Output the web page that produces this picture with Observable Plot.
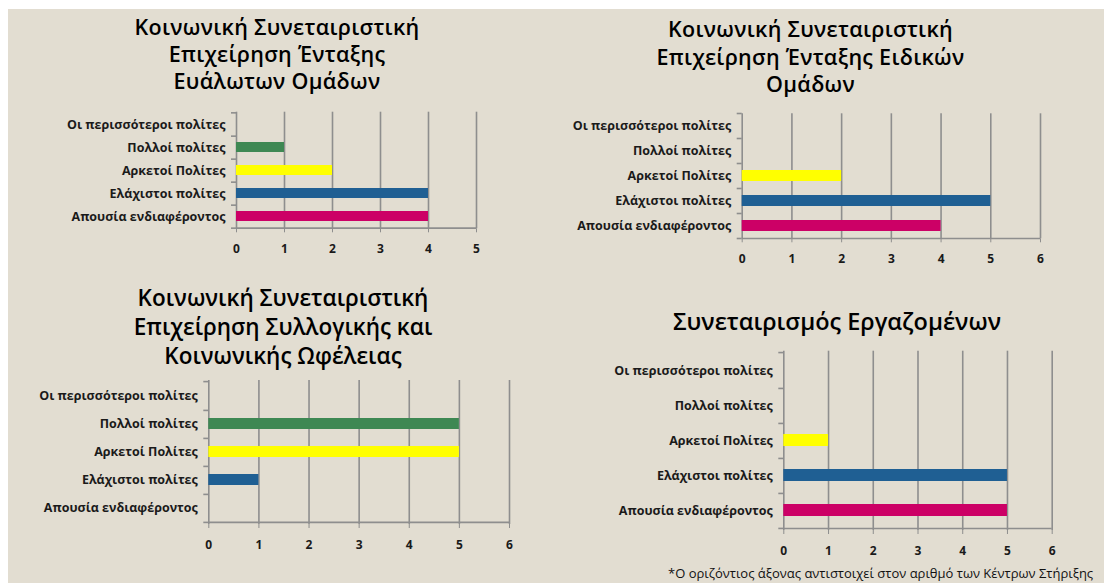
<!DOCTYPE html>
<html>
<head>
<meta charset="utf-8">
<script src="https://cdn.jsdelivr.net/npm/d3@7"></script>
<script src="https://cdn.jsdelivr.net/npm/@observablehq/plot@0.6"></script>
<style>
  html, body { margin: 0; padding: 0; background: #ffffff; width: 1104px; height: 583px; overflow: hidden; position: relative; }
  #bg { position: absolute; left: 8px; top: 9px; right: 0; bottom: 0; background: #E2DDD1; }
  .layer { position: absolute; left: 0; top: 0; }
  .title { position: absolute; font-family: "Open Sans", sans-serif; font-weight: 600; color: #000; text-align: center; white-space: nowrap; transform: translateX(-50%); }
  .note { position: absolute; font-family: "Open Sans", sans-serif; font-size: 13px; line-height: 15px; color: #111; white-space: nowrap; }
</style>
</head>
<body>
<div id="bg"></div>
<div id="root"></div>
<script>
// ---- data ----
const categories = [
  "Οι περισσότεροι πολίτες",
  "Πολλοί πολίτες",
  "Αρκετοί Πολίτες",
  "Ελάχιστοι πολίτες",
  "Απουσία ενδιαφέροντος"
];
const barColors = ["#7f7f7f", "#3E8853", "#FFFF00", "#1F5F93", "#CC0066"];

const valuesEntaxisEvalotwn = [0, 1, 2, 4, 4];
const valuesEntaxisEidikwn = [0, 0, 2, 5, 4];
const valuesSyllogikis = [0, 5, 5, 1, 0];
const valuesErgazomenwn = [0, 0, 1, 5, 5];

const titleEntaxisEvalotwn = ["Κοινωνική Συνεταιριστική", "Επιχείρηση Ένταξης", "Ευάλωτων Ομάδων"];
const titleEntaxisEidikwn = ["Κοινωνική Συνεταιριστική", "Επιχείρηση Ένταξης Ειδικών", "Ομάδων"];
const titleSyllogikis = ["Κοινωνική Συνεταιριστική", "Επιχείρηση Συλλογικής και", "Κοινωνικής Ωφέλειας"];
const titleErgazomenwn = ["Συνεταιρισμός Εργαζομένων"];

const xTicks4 = [0, 1, 2, 3, 4, 5];
const xTicks5 = [0, 1, 2, 3, 4, 5, 6];

const footnote = "*Ο οριζόντιος άξονας αντιστοιχεί στον αριθμό των Κέντρων Στήριξης";

// ---- layout (page coordinates) ----
const W = 1104, H = 583;
const grid = "#8E8E8E";
const panels = [
  {values: valuesEntaxisEvalotwn, ticks: xTicks4, title: titleEntaxisEvalotwn,
   x0: 236, x1: 476, top: 111.7, bottom: 228.3, thick: 10,
   tcx: 277, tBase: 34.5, tLine: 27, tSize: 21.5, tSpacing: 0.3},
  {values: valuesEntaxisEidikwn, ticks: xTicks5, title: titleEntaxisEidikwn,
   x0: 741.7, x1: 1040, top: 113.3, bottom: 238.3, thick: 10.7,
   tcx: 810.5, tBase: 37.5, tLine: 27.5, tSize: 21.5, tSpacing: 0.3},
  {values: valuesSyllogikis, ticks: xTicks5, title: titleSyllogikis,
   x0: 208.3, x1: 509, top: 380, bottom: 524, thick: 11.7,
   tcx: 283, tBase: 306, tLine: 29.3, tSize: 22.5, tSpacing: 0},
  {values: valuesErgazomenwn, ticks: xTicks5, title: titleErgazomenwn,
   x0: 783.3, x1: 1051.7, top: 350.7, bottom: 530, thick: 12.7,
   tcx: 837, tBase: 331, tLine: 29, tSize: 23.5, tSpacing: 0}
];

const root = document.getElementById("root");

function drawPanel(p) {
  const n = categories.length;
  const step = (p.bottom - p.top) / n;
  const pad = 1 - p.thick / step;
  const data = categories.map((c, i) => ({category: c, value: p.values[i], color: barColors[i]}));
  const last = categories[n - 1];
  const chart = Plot.plot({
    width: W, height: H,
    marginLeft: p.x0, marginRight: W - p.x1, marginTop: p.top, marginBottom: H - p.bottom,
    style: {background: "transparent", fontFamily: "'Open Sans', sans-serif", fontSize: "12.5px", fontWeight: "700", color: "#1a1a1a", overflow: "visible"},
    x: {domain: [0, d3.max(p.ticks)], label: null},
    y: {domain: categories, paddingInner: pad, paddingOuter: pad / 2, align: 0.5, label: null},
    color: {type: "identity"},
    marks: [
      Plot.ruleX(p.ticks, {stroke: grid, strokeWidth: 1.6}),
      Plot.ruleY([categories[0]], {y: d => d, dy: -step / 2, x1: 0, x2: 0, insetLeft: -5, stroke: grid, strokeWidth: 1.6}),
      Plot.ruleY(categories, {y: d => d, dy: step / 2, x1: 0, x2: 0, insetLeft: -5, stroke: grid, strokeWidth: 1.6}),
      Plot.ruleY([last], {y: d => d, dy: step / 2, stroke: grid, strokeWidth: 1.6}),
      Plot.barX(data.filter(d => d.value > 0), {x: "value", y: "category", fill: d => d.color}),
      Plot.axisX({ticks: p.ticks, tickSize: 4, tickPadding: 12, stroke: grid, fill: "#1a1a1a", tickFormat: d3.format("d"), label: null, fontSize: 12}),
      Plot.axisY({tickSize: 0, tickPadding: 11, fill: "#1a1a1a", label: null})
    ]
  });
  chart.classList.add("layer");
  root.appendChild(chart);

  // title
  const t = document.createElement("div");
  t.className = "title";
  t.style.fontSize = p.tSize + "px";
  t.style.lineHeight = p.tLine + "px";
  t.style.letterSpacing = p.tSpacing + "px";
  const top = p.tBase - ((p.tLine - 1.362 * p.tSize) / 2 + 1.069 * p.tSize);
  t.style.top = top + "px";
  t.style.left = p.tcx + "px";
  p.title.forEach((line, i) => {
    if (i) t.appendChild(document.createElement("br"));
    t.appendChild(document.createTextNode(line));
  });
  root.appendChild(t);
}

panels.forEach(drawPanel);

const note = document.createElement("div");
note.className = "note";
note.style.left = "668px";
note.style.top = "566px";
note.textContent = footnote;
root.appendChild(note);
</script>
</body>
</html>
